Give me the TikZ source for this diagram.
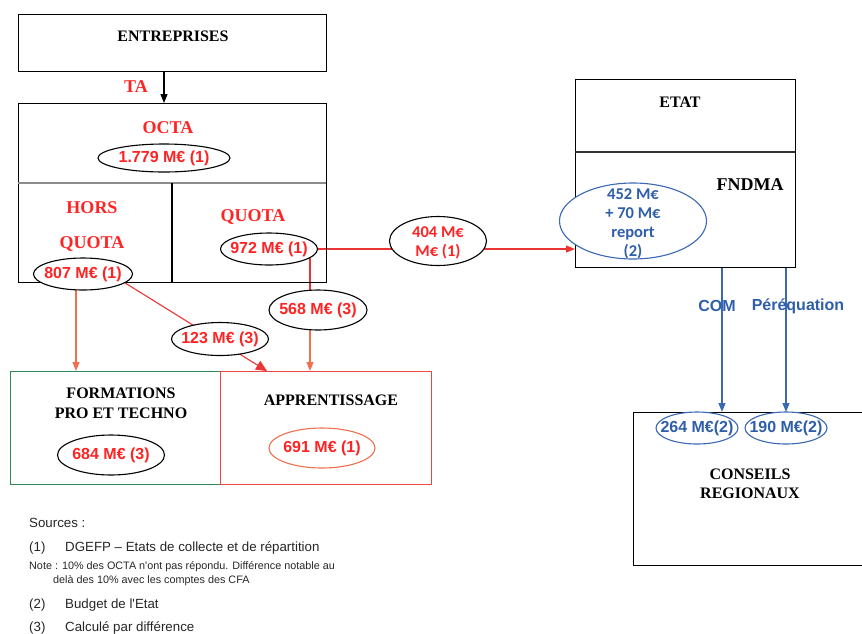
\documentclass[tikz,border=0pt]{standalone}
\usepackage{fontspec}
\setmainfont{Liberation Serif}
\newfontfamily\arialf{Liberation Sans}
\newfontfamily\calib{Carlito}
\usetikzlibrary{shapes.geometric,arrows.meta}
\pgfdeclarelayer{bg}
\pgfsetlayers{bg,main}

\definecolor{redt}{HTML}{FF2424}
\definecolor{redl}{HTML}{EC3434}
\definecolor{orl}{HTML}{F0704E}
\definecolor{bluel}{HTML}{3A68B2}
\definecolor{bluet}{HTML}{2F5FAA}
\definecolor{greenb}{HTML}{2E8A56}
\definecolor{redb}{HTML}{EE4444}

\tikzset{
  box/.style={draw=black, line width=1.2pt, inner sep=0pt, anchor=north west},
  ttl/.style={inner sep=0pt, font=\bfseries\fontsize{16}{18}\selectfont, text=black},
  rttl/.style={inner sep=0pt, font=\bfseries\fontsize{18}{20}\selectfont, text=redt},
  oval/.style={ellipse, draw=black, line width=1.1pt, fill=white, inner sep=0pt},
  amt/.style={inner sep=0pt, font=\arialf\bfseries\fontsize{16}{17}\selectfont, text=redt},
  camt/.style={inner sep=0pt, align=center, font=\calib\bfseries\fontsize{16.5}{19}\selectfont},
  bamt/.style={inner sep=0pt, font=\arialf\bfseries\fontsize{16}{17}\selectfont, text=bluet},
  tip/.style={-{Triangle[length=9pt,width=7pt]}},
  redline/.style={draw=redl, line width=1.1pt},
  orline/.style={draw=orl, line width=1.1pt},
  blueline/.style={draw=bluel, line width=1.3pt},
  src/.style={inner sep=0pt, anchor=west, font=\arialf\fontsize{13.3}{15}\selectfont, text=black!85},
  srcnote/.style={inner sep=0pt, anchor=west, font=\arialf\fontsize{10.8}{12}\selectfont, text=black!85}
}

\begin{document}
\begin{tikzpicture}[x=1pt,y=-1pt]
\useasboundingbox (0,0) rectangle (862,633);

% ---- boxes ----
\node[box, minimum width=308pt, minimum height=57pt] (ent) at (18,14) {};
\node[box, minimum width=308pt, minimum height=179pt] (octab) at (18,103) {};
\draw[black!45, line width=1.2pt] (18,183) -- (326,183);
\draw[black, line width=1.2pt] (172,183) -- (172,282);
\node[box, draw=greenb, minimum width=210pt, minimum height=113pt] (form) at (10,371) {};
\node[box, draw=redb, minimum width=211pt, minimum height=113pt] (appr) at (220,371) {};
\node[box, minimum width=220pt, minimum height=188pt] (etat) at (575,79) {};
\draw[black!80, line width=1.2pt] (575,152) -- (795,152);
\node[box, minimum width=232pt, minimum height=153pt] (cr) at (633,412) {};

% ---- titles ----
\node[ttl] (tent) at (173,36) {ENTREPRISES};
\node[rttl] (tta) at (136,87) {TA};
\node[rttl] (tocta) at (168,128) {OCTA};
\node[rttl] (thors) at (92,208) {HORS};
\node[rttl] (thq) at (92,244) {QUOTA};
\node[rttl] (tquota) at (253,217) {QUOTA};
\node[ttl] (tform1) at (121,393) {FORMATIONS};
\node[ttl] (tform2) at (121,413) {PRO ET TECHNO};
\node[ttl] (tappr) at (331,400) {APPRENTISSAGE};
\node[ttl] (tetat) at (680,102) {ETAT};
\node[ttl, font=\bfseries\fontsize{18}{20}\selectfont] (tfnd) at (750,185) {FNDMA};
\node[ttl] (tcr1) at (750,474) {CONSEILS};
\node[ttl] (tcr2) at (750,493) {REGIONAUX};

% ---- amounts ----
\node[oval, minimum width=132pt, minimum height=28pt] (e1779) at (164,158) {};
\node[amt] (t1779) at (e1779) {1.779 M€ (1)};
\node[oval, minimum width=99pt, minimum height=32pt] (e807) at (83,274) {};
\node[amt] (t807) at (e807) {807 M€ (1)};
\node[oval, minimum width=97pt, minimum height=32pt] (e972) at (269,249) {};
\node[amt] (t972) at (e972) {972 M€ (1)};
\node[oval, minimum width=97pt, minimum height=49pt] (e404) at (438,241) {};
\node[camt, text=redt] (t404) at (438,243) {404 M€\\M€ (1)};
\node[oval, minimum width=98pt, minimum height=40pt] (e568) at (318,310) {};
\node[amt] (t568) at (e568) {568 M€ (3)};
\node[oval, minimum width=97pt, minimum height=33pt] (e123) at (220,339) {};
\node[amt] (t123) at (e123) {123 M€ (3)};
\node[oval, minimum width=107pt, minimum height=40pt] (e684) at (111,455) {};
\node[amt] (t684) at (e684) {684 M€ (3)};
\node[oval, draw=orl, minimum width=106pt, minimum height=40pt] (e691) at (322,448) {};
\node[amt] (t691) at (e691) {691 M€ (1)};
\node[oval, draw=bluel, minimum width=147pt, minimum height=76pt] (e452) at (633,221) {};
\node[camt, text=bluet] (t452) at (633,224) {452 M€\\+ 70 M€\\report\\(2)};
\node[oval, draw=bluel, minimum width=82pt, minimum height=32pt] (e264) at (697,428) {};
\node[bamt] (t264) at (e264) {264 M€(2)};
\node[oval, draw=bluel, minimum width=82pt, minimum height=32pt] (e190) at (786,428) {};
\node[bamt] (t190) at (e190) {190 M€(2)};

% ---- connector anchors ----
\coordinate (x76) at (76,0);
\coordinate (x310) at (310,0);
\coordinate (x722) at (722,0);
\coordinate (x786) at (786,0);
\coordinate (dtip) at (267,371);

% ---- connectors (behind the ovals) ----
\begin{pgfonlayer}{bg}
  \draw[black, line width=1.2pt, tip] (ent.south -| e1779) -- (octab.north -| e1779);
  \draw[redline, tip] (e972.east) -- (e972.east -| etat.west);
  \draw[redline] (x310 |- e972) -- (x310 |- e568);
  \draw[orline, tip] (x310 |- e568) -- (x310 |- appr.north);
  \draw[orline, tip] (x76 |- e807) -- (x76 |- form.north);
  \draw[redline, -{Triangle[length=11pt,width=10pt]}] (e807.-12) -- (dtip);
  \draw[blueline, tip] (x722 |- etat.south) -- (x722 |- cr.north);
  \draw[blueline, tip] (x786 |- etat.south) -- (x786 |- cr.north);
\end{pgfonlayer}

% ---- flow labels ----
\node[bamt] (tcom) at (717,306) {COM};
\node[bamt] (tpereq) at (798,306) {Péréquation};

% ---- sources ----
\node[src] (s0) at (29,523) {Sources :};
\node[src] (s1n) at (29,548) {(1)};
\node[src] (s1) at (65,548) {DGEFP – Etats de collecte et de répartition};
\node[srcnote] (snote1) at (29,567) {Note : 10\% des OCTA n'ont pas répondu. Différence notable au};
\node[srcnote] (snote2) at (53,581) {delà des 10\% avec les comptes des CFA};
\node[src] (s2n) at (29,605) {(2)};
\node[src] (s2) at (65,605) {Budget de l'Etat};
\node[src] (s3n) at (29,628) {(3)};
\node[src] (s3) at (65,628) {Calculé par différence};
\end{tikzpicture}
\end{document}
